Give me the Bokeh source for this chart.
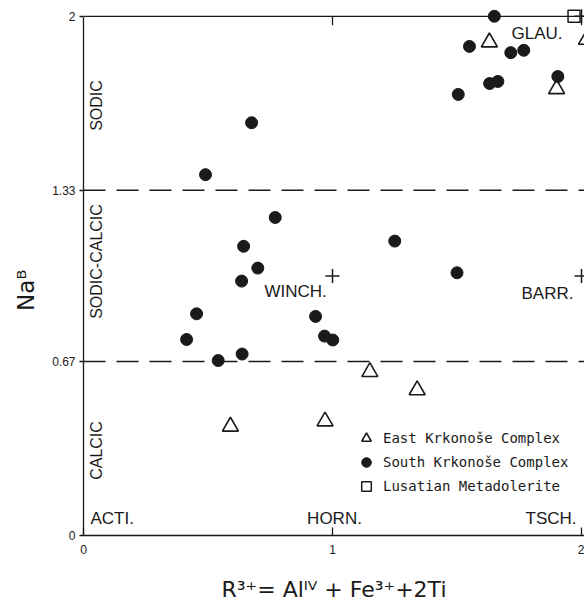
import math
from bokeh.plotting import figure
from bokeh.models import Range1d, FixedTicker, Label, Span, Legend, LegendItem
from bokeh.embed import file_html
from bokeh.resources import INLINE

# ---------------- data ----------------
east_x = [1.63, 1.90, 2.02, 1.15, 1.34, 0.97, 0.59]
east_y = [1.90, 1.72, 1.91, 0.63, 0.56, 0.44, 0.42]

south_x = [0.49, 0.675, 0.77, 0.643, 0.70, 0.635, 0.454, 0.414, 0.541, 0.637,
           0.932, 0.968, 1.001, 1.25, 1.50, 1.65, 1.55, 1.716, 1.768, 1.631,
           1.664, 1.505, 1.905]
south_y = [1.39, 1.59, 1.225, 1.114, 1.03, 0.98, 0.854, 0.755, 0.674, 0.699,
           0.844, 0.768, 0.753, 1.134, 1.012, 2.0, 1.884, 1.86, 1.869, 1.741,
           1.749, 1.699, 1.768]

lusatian_x = [1.97]
lusatian_y = [2.0]

endmember_x = [1, 2, 2]
endmember_y = [1, 1, 2]
endmember_names = ["WINCH.", "BARR.", "GLAU."]
base_names = ["ACTI.", "HORN.", "TSCH."]
region_names = ["SODIC", "SODIC-CALCIC", "CALCIC"]
boundaries = [0.67, 1.33]

x_ticks = [0, 1, 2]
x_tick_labels = ["0", "1", "2"]
y_ticks = [0, 0.67, 1.33, 2]
y_tick_labels = ["0", "0.67", "1.33", "2"]

x_title = "R\u00b3\u207a= Al\u1d35\u2c7d + Fe\u00b3\u207a+2Ti"
y_title = "Na\u1d2e"

legend_labels = ["East Krkonoše Complex", "South Krkonoše Complex", "Lusatian Metadolerite"]

# ---------------- layout ----------------
W, H = 584, 606
BL, BR, BT, BB = 83, 0, 8, 71
XMIN, XMAX = 0.0, 2.012
YMIN, YMAX = 0.0, 2.03
FRAME_W = W - BL - BR
FRAME_H = H - BT - BB
PXX = FRAME_W / (XMAX - XMIN)
PXY = FRAME_H / (YMAX - YMIN)
FL = BL                # frame left (px)
FB = BT + FRAME_H      # frame bottom (px from top)


def px2x(px):
    return XMIN + (px - FL) / PXX


def py2y(py):
    return YMIN + (FB - py) / PXY


INK = "#1a1a1a"
SANS = "Liberation Sans"

p = figure(width=W, height=H, output_backend="svg", toolbar_location=None,
           x_range=Range1d(XMIN, XMAX), y_range=Range1d(YMIN, YMAX),
           min_border_left=BL, min_border_right=BR, min_border_top=BT,
           min_border_bottom=BB, title=None)
p.grid.visible = False
p.outline_line_color = None
p.background_fill_color = "white"
p.border_fill_color = "white"

# bottom axis
xa = p.xaxis[0]
xa.ticker = FixedTicker(ticks=x_ticks)
xa.major_label_overrides = {t: s for t, s in zip(x_ticks, x_tick_labels)}
xa.major_tick_in = 8
xa.major_tick_out = 0
xa.minor_tick_line_color = None
xa.major_label_standoff = 9
xa.axis_line_width = 1.3
xa.major_tick_line_width = 1.3
xa.axis_line_color = INK
xa.major_tick_line_color = INK
xa.major_label_text_font = SANS
xa.major_label_text_font_size = "12px"
xa.major_label_text_color = INK
xa.axis_label = x_title
xa.axis_label_text_font = "DejaVu Sans"
xa.axis_label_text_font_style = "normal"
xa.axis_label_text_font_size = "22px"
xa.axis_label_text_color = INK
xa.axis_label_standoff = 20

# left axis
ya = p.yaxis[0]
ya.ticker = FixedTicker(ticks=y_ticks)
ya.major_label_overrides = {t: s for t, s in zip(y_ticks, y_tick_labels)}
ya.major_tick_in = 0
ya.major_tick_out = 4
ya.minor_tick_line_color = None
ya.major_label_standoff = 4
ya.bounds = (y_ticks[0], y_ticks[-1])
ya.axis_line_width = 1.3
ya.major_tick_line_width = 1.3
ya.axis_line_color = INK
ya.major_tick_line_color = INK
ya.major_label_text_font = SANS
ya.major_label_text_font_size = "12px"
ya.major_label_text_color = INK
ya.axis_label = y_title + "\u00a0" * 5
ya.axis_label_text_font = "DejaVu Sans"
ya.axis_label_text_font_style = "normal"
ya.axis_label_text_font_size = "23px"
ya.axis_label_text_color = INK
ya.axis_label_standoff = 10

# top frame line and its inward ticks
p.add_layout(Span(location=y_ticks[-1], dimension="width", line_color=INK, line_width=1.3))
top_ticks = [t for t in x_ticks if t > XMIN]
tick_len = 9 / PXY
p.segment(x0=top_ticks, y0=[y_ticks[-1]] * len(top_ticks), x1=top_ticks,
          y1=[y_ticks[-1] - tick_len] * len(top_ticks), line_color=INK, line_width=1.3)

# boundary dashed lines
for b in boundaries:
    p.add_layout(Span(location=b, dimension="width", line_color=INK, line_width=1.5,
                      line_dash="22 11"))

# data marks
r_east = p.scatter(east_x, east_y, marker="triangle", size=16, fill_color=None,
                   line_color=INK, line_width=1.6)
r_south = p.scatter(south_x, south_y, marker="circle", size=12, fill_color=INK,
                    line_color=INK)
r_lus = p.scatter(lusatian_x, lusatian_y, marker="square", size=12, fill_color="white",
                  line_color=INK, line_width=1.5)
p.scatter(endmember_x, endmember_y, marker="cross", size=14, line_color=INK, line_width=1.5)

# legend
GH = 24
legend = Legend(items=[LegendItem(label=legend_labels[0], renderers=[r_east]),
                       LegendItem(label=legend_labels[1], renderers=[r_south]),
                       LegendItem(label=legend_labels[2], renderers=[r_lus])],
                location=(354 - FL, FB - 498),
                padding=0, margin=0, spacing=0, glyph_width=GH, glyph_height=GH,
                label_height=GH, label_standoff=5,
                label_text_font="DejaVu Sans Mono", label_text_font_size="14px",
                label_text_color=INK, border_line_color=None,
                background_fill_alpha=0)
p.add_layout(legend)

# region labels (vertical)
region_pos = [(96, 105), (96, 261), (96, 450)]
for name, (px, py) in zip(region_names, region_pos):
    p.add_layout(Label(x=px2x(px), y=py2y(py), text=name, angle=math.pi / 2,
                       text_align="center", text_baseline="middle",
                       text_font=SANS, text_font_size="16px", text_color=INK))

# end-member labels
end_pos = [(264, 291, "left"), (521, 293, "left"), (511, 33, "left")]
for name, (px, py, al) in zip(endmember_names, end_pos):
    p.add_layout(Label(x=px2x(px), y=py2y(py), text=name, text_align=al,
                       text_baseline="middle", text_font=SANS, text_font_size="17px",
                       text_color=INK))
base_pos = [(90, 518, "left"), (334, 518, "center"), (576, 518, "right")]
for name, (px, py, al) in zip(base_names, base_pos):
    p.add_layout(Label(x=px2x(px), y=py2y(py), text=name, text_align=al,
                       text_baseline="middle", text_font=SANS, text_font_size="17px",
                       text_color=INK))

open("out.html", "w").write(file_html(p, INLINE))
